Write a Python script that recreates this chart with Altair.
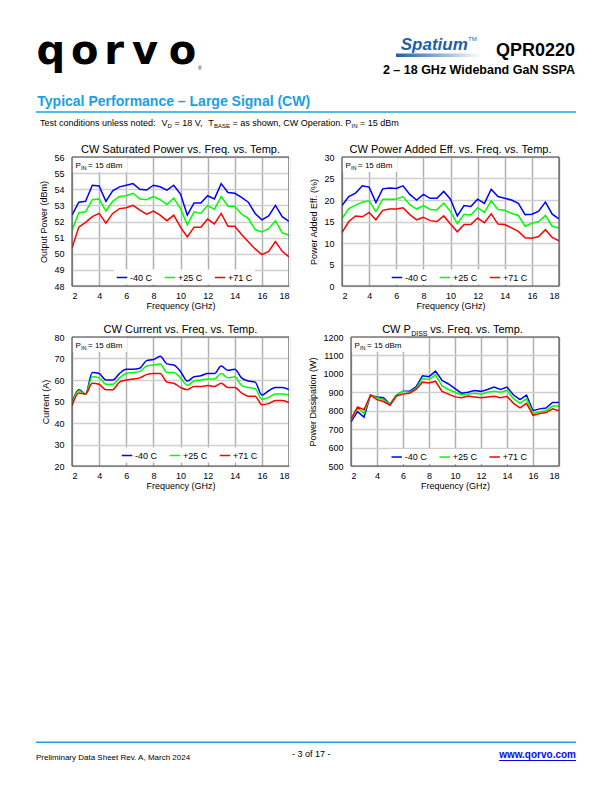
import altair as alt
import pandas as pd

FONT = "Liberation Sans"

FREQ = [2.0, 2.5, 3.0, 3.5, 4.0, 4.5, 5.0, 5.5, 6.0, 6.5, 7.0, 7.5, 8.0, 8.5, 9.0, 9.5,
        10.0, 10.5, 11.0, 11.5, 12.0, 12.5, 13.0, 13.5, 14.0, 14.5, 15.0, 15.5, 16.0,
        16.5, 17.0, 17.5, 18.0]
SERIES = ["-40 C", "+25 C", "+71 C"]
COLORS = ["#0000ff", "#00ff00", "#ff0000"]
X_TICKS = [2, 4, 6, 8, 10, 12, 14, 16, 18]

PSAT_M40 = [52.4, 53.2, 53.25, 54.25, 54.2, 53.25, 53.9, 54.15, 54.25, 54.35, 54.0, 53.95, 54.25,
            54.15, 53.95, 54.25, 53.7, 52.4, 53.15, 53.15, 53.6, 53.4, 54.35, 53.8, 53.75, 53.5,
            53.2, 52.5, 52.1, 52.35, 53.0, 52.3, 52.0]
PSAT_P25 = [51.45, 52.55, 52.6, 53.35, 53.4, 52.65, 53.25, 53.55, 53.6, 53.75, 53.4, 53.35, 53.55,
            53.35, 53.05, 53.45, 52.8, 51.8, 52.6, 52.5, 53.0, 52.75, 53.55, 52.95, 52.95, 52.45,
            52.2, 51.5, 51.35, 51.55, 52.05, 51.3, 51.15]
PSAT_P71 = [50.35, 51.65, 51.95, 52.3, 52.5, 51.9, 52.5, 52.8, 52.85, 53.0, 52.7, 52.45, 52.65,
            52.4, 52.05, 52.4, 51.65, 51.05, 51.65, 51.65, 52.15, 51.85, 52.5, 51.7, 51.7, 51.2,
            50.75, 50.3, 49.95, 50.15, 50.75, 50.15, 49.8]

PAE_M40 = [18.7, 20.8, 21.6, 23.3, 23.0, 19.4, 22.6, 22.8, 22.7, 23.3, 21.3, 20.0, 21.3, 20.4,
           20.4, 22.0, 20.2, 16.3, 18.7, 18.5, 20.2, 19.2, 22.5, 20.8, 20.4, 20.0, 19.2, 16.6,
           16.7, 17.4, 19.5, 16.7, 15.6]
PAE_P25 = [15.7, 18.0, 18.8, 19.5, 19.8, 17.3, 20.2, 20.2, 20.2, 20.8, 18.9, 17.9, 18.7, 17.8,
           17.7, 19.3, 17.3, 14.5, 16.7, 16.5, 18.2, 17.1, 19.8, 17.8, 17.6, 16.9, 16.4, 13.9,
           14.6, 15.0, 16.4, 13.9, 13.5]
PAE_P71 = [12.4, 15.0, 16.3, 16.1, 17.1, 15.4, 17.6, 17.9, 17.9, 18.2, 16.6, 15.4, 16.0, 15.2,
           15.0, 16.3, 14.4, 12.6, 14.3, 14.3, 15.8, 14.7, 16.8, 14.4, 14.3, 13.5, 12.7, 11.2,
           11.1, 11.5, 13.1, 11.3, 10.5]

CUR_M40 = [49.5, 55.5, 53.5, 63.5, 63.0, 60.0, 60.0, 63.0, 65.0, 65.0, 65.5, 69.0, 69.5, 71.0,
           67.5, 67.0, 64.0, 59.5, 61.5, 62.0, 63.0, 63.0, 66.5, 64.5, 65.0, 61.0, 59.5, 59.0,
           53.0, 55.0, 56.5, 56.5, 55.5]
CUR_P25 = [49.0, 55.0, 53.5, 61.5, 61.0, 58.0, 58.0, 61.0, 63.0, 63.5, 64.0, 66.5, 67.0, 67.5,
           63.5, 63.5, 61.0, 57.5, 59.5, 60.0, 60.5, 60.5, 63.0, 61.0, 61.5, 57.5, 56.5, 56.0,
           51.0, 52.0, 53.5, 53.5, 53.0]
CUR_P71 = [48.0, 54.0, 53.5, 58.5, 58.0, 55.5, 55.5, 59.0, 60.0, 60.5, 61.0, 62.5, 63.0, 63.0,
           59.0, 58.5, 56.5, 55.5, 57.0, 57.0, 57.5, 57.0, 58.5, 56.5, 56.5, 54.0, 52.5, 52.5,
           48.5, 49.0, 50.5, 50.5, 49.5]

PDISS_M40 = [740, 795, 765, 885, 875, 870, 835, 885, 905, 905, 930, 990, 985, 1015, 965, 945,
             920, 895, 900, 910, 905, 915, 928, 915, 928, 885, 860, 885, 800, 810, 815, 845, 845]
PDISS_P25 = [750, 815, 785, 885, 870, 860, 835, 885, 905, 900, 920, 975, 970, 995, 935, 915,
             900, 885, 890, 895, 890, 900, 905, 900, 910, 865, 840, 865, 785, 795, 800, 825, 825]
PDISS_P71 = [755, 820, 805, 885, 860, 850, 830, 880, 890, 895, 915, 955, 950, 960, 905, 890,
             875, 870, 880, 875, 870, 875, 878, 870, 878, 840, 815, 840, 775, 785, 790, 810, 800]

ONE = alt.Data(values=[{"k": 0}])
BLUE_ACCENT = "#1aa0e6"


def long_df(a, b, c):
    rows = []
    for s, vals in zip(SERIES, (a, b, c)):
        for f, v in zip(FREQ, vals):
            rows.append({"freq": f, "val": v, "series": s})
    return pd.DataFrame(rows)


def txt(s, x, y, size, weight="normal", color="black", align="left", style="normal", font=FONT):
    return alt.Chart(ONE).mark_text(
        text=s, fontSize=size, fontWeight=weight, color=color, align=align,
        baseline="alphabetic", font=font, fontStyle=style
    ).encode(x=alt.value(x), y=alt.value(y))


def hrule(x1, x2, y, color, w):
    return alt.Chart(ONE).mark_rule(color=color, strokeWidth=w).encode(
        x=alt.value(x1), x2=alt.value(x2), y=alt.value(y))


def anchor_rect(x1, x2, y1, y2):
    return alt.Chart(ONE).mark_rect(fill="white").encode(
        x=alt.value(x1), x2=alt.value(x2), y=alt.value(y1), y2=alt.value(y2))


def spacer(w, h, top=0, bottom=None):
    if bottom is None:
        bottom = h
    return alt.layer(anchor_rect(0, 1, -top, bottom)).properties(width=w, height=h)


def panel(df, title_parts, ytitle, ydom, yvals, width, height, titlex, legx, legy, interp="linear"):
    line = alt.Chart(df).mark_line(strokeWidth=1.5, interpolate=interp, clip=True).encode(
        x=alt.X("freq:Q", scale=alt.Scale(domain=[2, 18], nice=False, zero=False),
                axis=alt.Axis(values=X_TICKS, title="Frequency (GHz)", grid=True,
                              gridColor="#b0b0b0", gridWidth=1.5, labelPadding=5,
                              titleY=22, titleBaseline="alphabetic")),
        y=alt.Y("val:Q", scale=alt.Scale(domain=ydom, nice=False, zero=False),
                axis=alt.Axis(values=yvals, title=ytitle, grid=True, gridColor="#cfcfcf",
                              gridWidth=1.5, labelPadding=8, titleX=titlex, titleAngle=270,
                              titleBaseline="middle", titleAlign="center", format="d")),
        color=alt.Color("series:N", scale=alt.Scale(domain=SERIES, range=COLORS), sort=SERIES,
                        legend=alt.Legend(title=None, orient="none", legendX=legx, legendY=legy,
                                          direction="horizontal", fillColor="white", padding=2,
                                          symbolType="stroke", symbolSize=110,
                                          symbolStrokeWidth=1.5, labelFontSize=9,
                                          labelFont=FONT, labelColor="black", labelOffset=2,
                                          columnPadding=8)),
    )
    box = alt.Chart(ONE).mark_rect(fill="white").encode(
        x=alt.value(0.5), x2=alt.value(55), y=alt.value(0.5), y2=alt.value(15))
    p1 = txt("P", 3.5, 11, 8)
    p2 = txt("IN", 9.0, 13, 5.5)
    p3 = txt("= 15 dBm", 16, 11, 8)
    border = alt.Chart(ONE).mark_rect(fillOpacity=0, stroke="#404040", strokeWidth=1).encode(
        x=alt.value(0), x2=alt.value("width"), y=alt.value(0), y2=alt.value("height"))
    layers = [line, box, p1, p2, p3, border] + title_parts
    return alt.layer(*layers).properties(width=width, height=height)


W1, H = 217, 129
W4 = 208

c1 = panel(long_df(PSAT_M40, PSAT_P25, PSAT_P71),
           [txt("CW Saturated Power vs. Freq. vs. Temp.", W1 / 2, -4, 11, align="center")],
           "Output Power (dBm)", [48, 56], list(range(48, 57)), W1, H, -28.4, 42, 112.5)
c2 = panel(long_df(PAE_M40, PAE_P25, PAE_P71),
           [txt("CW Power Added Eff. vs. Freq. vs. Temp.", W1 / 2, -4, 11, align="center")],
           "Power Added Eff. (%)", [0, 30], list(range(0, 31, 5)), W1, H, -29, 47, 112.5)
c3 = panel(long_df(CUR_M40, CUR_P25, CUR_P71),
           [txt("CW Current vs. Freq. vs. Temp.", W1 / 2, -4, 11, align="center")],
           "Current (A)", [20, 80], list(range(20, 81, 10)), W1, H, -26.7, 47, 110.5,
           interp="monotone")
c4 = panel(long_df(PDISS_M40, PDISS_P25, PDISS_P71),
           [txt("CW P", 59.9, -4, 11, align="right"),
            txt("DISS", 60.2, -1.5, 7),
            txt("vs. Freq. vs. Temp.", 79.2, -4, 11)],
           "Power Dissipation (W)", [500, 1200], list(range(500, 1201, 100)), W4, H, -38.3,
           37.7, 112)

# Header (coordinates relative to page minus 8px margin)
HEADER_H = 129
logo = [txt(ch, cx, 56.3, 40, weight="bold", align="center", font="DejaVu Sans")
        for ch, cx in zip("qorvo", [42.8, 76.7, 106.2, 137.0, 174.5])]
swoosh = alt.Chart(ONE).mark_rect(
    fill=alt.Gradient(gradient="linear", x1=0, x2=1, y1=0, y2=0,
                      stops=[alt.GradientStop(color="#1f5fa8", offset=0),
                             alt.GradientStop(color="#ffffff", offset=1)])
).encode(x=alt.value(388), x2=alt.value(474), y=alt.value(45.5), y2=alt.value(49))
header_parts = [anchor_rect(0, 2, 0, 2)] + logo + [
    txt("®", 190, 62, 5),
    swoosh,
    txt("Spatium", 392.7, 42, 17, weight="bold", color="#1f5fa8", style="italic"),
    txt("TM", 460, 33, 6, color="#1f5fa8"),
    txt("QPR0220", 567, 48, 18, weight="bold", align="right"),
    txt("2 – 18 GHz Wideband GaN SSPA", 567, 65.5, 12.5, weight="bold", align="right"),
    txt("Typical Performance – Large Signal (CW)", 29.3, 98, 14, weight="bold",
        color=BLUE_ACCENT),
    hrule(28, 568, 104, BLUE_ACCENT, 1.5),
    txt("Test conditions unless noted:", 32, 117.5, 9),
    txt("V", 153.6, 117.5, 9),
    txt("D", 159.6, 119.5, 6),
    txt("= 18 V,", 166.5, 117.5, 9),
    txt("T", 200.3, 117.5, 9),
    txt("BASE", 206, 119.5, 6),
    txt("= as shown, CW Operation. P", 224.5, 117.5, 9),
    txt("IN", 343.5, 119.5, 6),
    txt("= 15 dBm", 352, 117.5, 9),
]
header = alt.layer(*header_parts).properties(width=596, height=HEADER_H)

# Footer: its origin sits at page y = 8 + 129 + 20 + 159 + 21 + 159 = 496
footer_parts = [
    anchor_rect(0, 2, 0, 2),
    hrule(28, 568, 246.3, BLUE_ACCENT, 1.5),
    txt("Preliminary Data Sheet Rev. A, March 2024", 28, 264, 8),
    txt("- 3 of 17 -", 303.3, 260.7, 9, align="center"),
    txt("www.qorvo.com", 568, 262, 10, weight="bold", color="#0a0aee", align="right"),
    hrule(491, 568, 264.5, "#0a0aee", 1),
]
footer = alt.layer(*footer_parts).properties(width=596, height=270)

row1 = alt.hconcat(spacer(63.7, H, top=20, bottom=159), c1, spacer(53, H), c2,
                   spacing=0, bounds="flush").resolve_scale(color="independent").resolve_legend(
    color="independent")
row2 = alt.hconcat(spacer(63.7, H, top=21, bottom=159), c3, spacer(62, H), c4,
                   spacing=0, bounds="flush").resolve_scale(color="independent").resolve_legend(
    color="independent")

chart = alt.vconcat(header, row1, row2, footer, spacing=0).resolve_scale(
    color="independent").resolve_legend(color="independent").properties(padding=0).configure_view(
    strokeWidth=0
).configure_axis(
    labelFont=FONT, titleFont=FONT, labelFontSize=9, titleFontSize=9,
    titleFontWeight="normal", labelColor="black", titleColor="black",
    ticks=False, domain=False
)

chart.save("out.html", embed_options={"renderer": "svg", "actions": False})
